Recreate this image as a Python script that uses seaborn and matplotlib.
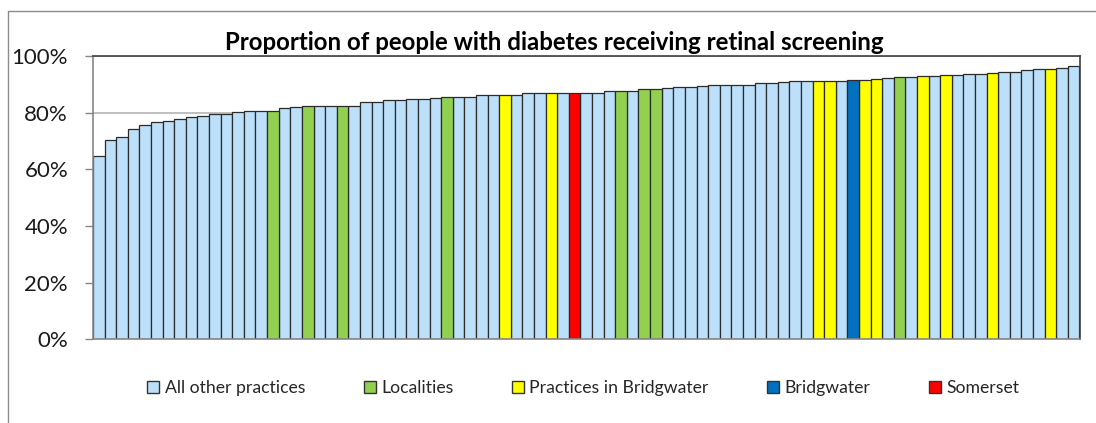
import numpy as np
import pandas as pd
import matplotlib
matplotlib.use('Agg')
import seaborn as sns
import matplotlib.pyplot as plt
from matplotlib.lines import Line2D

sns.set_theme(style="white")
plt.rcParams['font.family'] = ['Lato', 'DejaVu Sans']

# proportion (%) per practice, sorted ascending
values = [64.7, 70.5, 71.5, 74.2, 75.8, 76.8, 77.0, 77.8, 78.5, 78.8,
          79.7, 79.7, 80.1, 80.6, 80.6, 80.6, 81.7, 81.9, 82.2, 82.3,
          82.3, 82.4, 82.5, 83.8, 83.8, 84.3, 84.3, 84.7, 84.9, 85.1,
          85.4, 85.4, 85.6, 86.1, 86.4, 86.4, 86.4, 86.8, 86.8, 87.0,
          87.0, 87.1, 87.1, 87.1, 87.5, 87.8, 87.8, 88.2, 88.2, 88.6,
          88.9, 88.9, 89.3, 89.6, 89.9, 89.9, 89.9, 90.3, 90.5, 90.8,
          91.0, 91.0, 91.0, 91.0, 91.2, 91.5, 91.7, 91.8, 92.1, 92.5,
          92.6, 92.8, 93.0, 93.3, 93.3, 93.6, 93.8, 93.9, 94.5, 94.5,
          94.9, 95.3, 95.4, 95.9, 96.4]

groups = ["All other practices", "Localities", "Practices in Bridgwater", "Bridgwater", "Somerset"]
localities_idx = [15, 18, 21, 30, 45, 47, 48, 69]
bridgwater_practices_idx = [35, 39, 62, 63, 66, 67, 71, 73, 77, 82]
bridgwater_idx = [65]
somerset_idx = [41]

colors = {"All other practices": "#BDE0FA", "Localities": "#92D050",
          "Practices in Bridgwater": "#FFFF00", "Bridgwater": "#0070C0",
          "Somerset": "#FF0000"}

group = ["All other practices"] * len(values)
for i in localities_idx:
    group[i] = "Localities"
for i in bridgwater_practices_idx:
    group[i] = "Practices in Bridgwater"
for i in bridgwater_idx:
    group[i] = "Bridgwater"
for i in somerset_idx:
    group[i] = "Somerset"

df = pd.DataFrame({"pos": np.arange(len(values)), "value": values, "group": group})

fig = plt.figure(figsize=(10.96, 4.23), dpi=100)
ax = fig.add_axes([93 / 1096, 1 - 339.3 / 423, (1079.5 - 93) / 1096, (339.3 - 56) / 423])

for y in [20, 40, 60, 80, 100]:
    ax.axhline(y, color="#b4b4b4", lw=1.2, zorder=0)

sns.barplot(data=df, x="pos", y="value", hue="group", hue_order=groups, palette=colors,
            dodge=False, width=1.0, saturation=1, edgecolor="#2b2b2b", linewidth=0.9,
            legend=False, ax=ax, zorder=2)

ax.set_xlim(-0.5, len(values) - 0.5)
ax.set_ylim(0, 100)
ax.set_yticks([0, 20, 40, 60, 80, 100])
ax.set_yticklabels([f"{v}%" for v in [0, 20, 40, 60, 80, 100]], fontsize=16, color="#1a1a1a")
ax.tick_params(axis="y", which="both", left=True, length=6, width=1, color="#868686", pad=12)
ax.set_xticks([])
ax.set_xlabel("")
ax.set_ylabel("")
ax.grid(False)
for s in ["left", "bottom"]:
    ax.spines[s].set_color("#868686")
    ax.spines[s].set_linewidth(1.2)
for s in ["top", "right"]:
    ax.spines[s].set_color("#404040")
    ax.spines[s].set_linewidth(1.2)

fig.text(0.5055, 1 - 42 / 423, "Proportion of people with diabetes receiving retinal screening",
         ha="center", va="center", fontsize=17.3, fontweight="bold", color="black")

handles = [Line2D([0], [0], marker="s", ls="", markersize=8.5, markerfacecolor=colors[g],
                  markeredgecolor="#333333", markeredgewidth=1) for g in groups]
fig.legend(handles, groups, loc="center", bbox_to_anchor=(0.532, 35 / 423), ncol=5,
           frameon=False, fontsize=12.7, handlelength=0.7, handletextpad=0.3,
           columnspacing=3.3)

# chart area border
fig.add_artist(Line2D([8 / 1096, 8 / 1096], [0, 1 - 11 / 423], transform=fig.transFigure,
                      color="#8c8c8c", lw=1))
fig.add_artist(Line2D([8 / 1096, 1], [1 - 11 / 423, 1 - 11 / 423], transform=fig.transFigure,
                      color="#8c8c8c", lw=1))

fig.savefig("out.png", dpi=100)
